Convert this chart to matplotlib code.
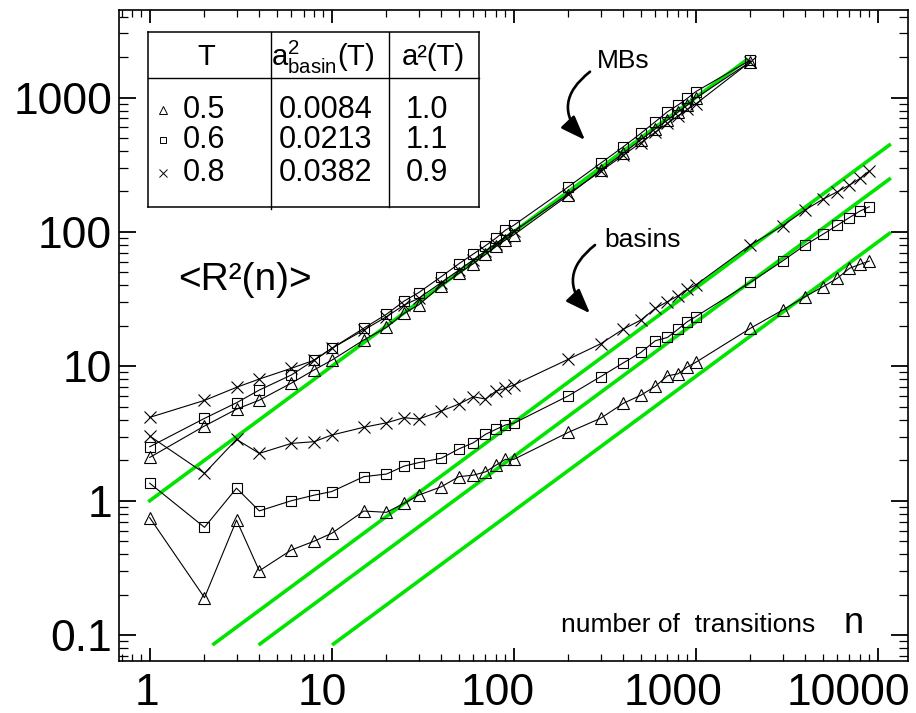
import matplotlib
matplotlib.use("Agg")
import matplotlib.pyplot as plt
from matplotlib.lines import Line2D
from matplotlib.patches import FancyArrowPatch
from matplotlib.transforms import ScaledTranslation

plt.rcParams['font.family'] = ['Liberation Sans', 'DejaVu Sans']
plt.rcParams['mathtext.fontset'] = 'custom'
plt.rcParams['mathtext.rm'] = 'Liberation Sans'
plt.rcParams['mathtext.it'] = 'Liberation Sans'

# number of transitions n
n_short = [1, 2, 3, 4, 6, 8, 10, 15, 20, 25, 30, 40, 50, 60, 70, 80, 90, 100]
n_mid = [200, 300, 400, 500, 600, 700, 800, 900, 1000]
n_long = [2000, 3000, 4000, 5000, 6000, 7000, 8000, 9000]
n_mb = n_short + n_mid + [2000]
n_basin = n_short + n_mid + n_long

temps = ["0.5", "0.6", "0.8"]
symbols = ["^", "s", "x"]
a2_basin = [0.0084, 0.0213, 0.0382]
a2_mb = [1.0, 1.1, 0.9]

# <R^2(n)> for metabasins
mb_t05 = [2.1, 3.6, 4.8, 5.6, 7.5, 9.4, 11.1, 15.7, 19.5, 24.8, 28.6, 39.8, 49.2, 58, 68, 78, 87, 95,
          188, 288, 385, 485, 585, 680, 780, 880, 990, 1850]
mb_t06 = [2.52, 4.1, 5.36, 6.66, 8.62, 11.1, 13.6, 19.2, 24.4, 30.6, 35.3, 46.5, 58, 68.5, 79, 90, 103, 112,
          217, 324, 430, 542, 661, 784, 880, 986, 1105, 1900]
mb_t08 = [4.17, 5.58, 6.98, 8.04, 9.67, 11.1, 13.6, 18.6, 23.4, 28.6, 32, 42, 52, 62, 72, 82, 92, 101,
          192, 282, 372, 462, 552, 642, 732, 815, 895, 1850]

# <R^2(n)> for basins
basin_t05 = [0.748, 0.19, 0.718, 0.301, 0.43, 0.50, 0.572, 0.838, 0.82, 0.956, 1.10, 1.27, 1.51, 1.55, 1.64, 1.84, 2.03, 2.03,
             3.23, 4.1, 5.3, 6.1, 7.1, 8.5, 8.8, 9.9, 10.7,
             19.2, 26.2, 33, 39.1, 45.2, 53.6, 57.4, 60.7]
basin_t06 = [1.35, 0.634, 1.24, 0.84, 1.0, 1.10, 1.17, 1.51, 1.58, 1.81, 1.92, 2.07, 2.43, 2.70, 3.12, 3.40, 3.66, 3.77,
             6.04, 8.37, 10.6, 12.7, 15.5, 16.4, 18.9, 21.5, 23.4,
             42.2, 60.7, 80, 96, 112, 128, 143, 154]
basin_t08 = [3.03, 1.60, 2.86, 2.25, 2.67, 2.75, 3.08, 3.52, 3.80, 4.15, 4.05, 4.65, 5.24, 5.94, 5.71, 6.55, 6.86, 7.26,
             11.3, 14.7, 18.9, 22.1, 27, 30.3, 33.4, 37.4, 40.3,
             80, 111, 146, 175, 199, 223, 250, 284]

mb_curves = [mb_t05, mb_t06, mb_t08]
basin_curves = [basin_t05, basin_t06, basin_t08]

# range of the linear fits a^2 * n
mb_fit_range = [1, 1900]
basin_fit_floor = 0.086
basin_fit_end = 11600

x_ticks = [1, 10, 100, 1000, 10000]
x_labels = ["1", "10", "100", "1000", "10000"]
y_ticks = [0.1, 1, 10, 100, 1000]
y_labels = ["0.1", "1", "10", "100", "1000"]

W, H = 916, 713
fig = plt.figure(figsize=(W / 100, H / 100), dpi=100)
ax = fig.add_axes([119 / W, 1 - 661 / H, 789 / W, 651 / H])


def fxy(px, py):
    # pixel position -> figure fraction
    return px / W, 1 - py / H


green = "#00e400"

# linear fits
ax.plot(mb_fit_range, [a2_mb[0] * n for n in mb_fit_range], color=green, lw=2.6, zorder=1)
for a2 in a2_basin:
    nn = [basin_fit_floor / a2, basin_fit_end]
    ax.plot(nn, [a2 * n for n in nn], color=green, lw=2.6, zorder=1)

msize = {"^": 8, "s": 7.3, "x": 8}
for sym, mb, bs in zip(symbols, mb_curves, basin_curves):
    for nn, yy in ((n_mb, mb), (n_basin, bs)):
        ax.plot(nn, yy, color="black", lw=0.8, marker=sym, ms=msize[sym],
                mfc="none", mec="black", mew=0.8, zorder=3)

ax.set_xscale("log")
ax.set_yscale("log")
ax.set_xlim(0.678, 14680)
ax.set_ylim(0.0642, 4480)

for s in ax.spines.values():
    s.set_linewidth(1.2)

ax.set_yticks(y_ticks, labels=y_labels)
ax.set_xticks(x_ticks, labels=[""] * len(x_ticks))
ax.tick_params(which="both", direction="in", top=True, right=True, labelsize=32)
ax.tick_params(axis="y", which="major", length=12, width=1.3, pad=5)
ax.tick_params(axis="y", which="minor", length=6.5, width=0.9)
ax.tick_params(axis="x", which="major", length=9.5, width=1.3)
ax.tick_params(axis="x", which="minor", length=5, width=0.9)
ax.tick_params(axis="x", labelbottom=False)

# x tick labels, drawn slightly to the left of their ticks
for v, lab in zip(x_ticks, x_labels):
    dx = (-3 - 6.5 * (len(lab) - 1)) / 100
    off = ScaledTranslation(dx, -0.116, fig.dpi_scale_trans)
    ax.text(v, 0, lab, transform=ax.get_xaxis_transform() + off,
            ha="center", va="top", fontsize=32)

# annotations
fig.text(*fxy(178, 290), "<R²(n)>", fontsize=28, ha="left", va="baseline")
fig.text(*fxy(597, 68.3), "MBs", fontsize=19, ha="left", va="baseline")
fig.text(*fxy(604, 246.5), "basins", fontsize=19, ha="left", va="baseline")
fig.text(*fxy(561, 631.7), "number of  transitions", fontsize=19, ha="left", va="baseline")
fig.text(*fxy(844, 632.7), "n", fontsize=26, ha="left", va="baseline")

for start, end in (((590, 71.7), (585, 140)), ((595, 245), (590, 313.3))):
    arr = FancyArrowPatch(fxy(*start), fxy(*end), transform=fig.transFigure,
                          connectionstyle="arc3,rad=0.55",
                          arrowstyle="-|>,head_length=0.75,head_width=0.28",
                          mutation_scale=20, lw=1.9, color="black",
                          shrinkA=0, shrinkB=0)
    fig.add_artist(arr)

# table of temperatures and fitted prefactors
box_l, box_r, box_t, box_b = 148, 479, 32, 207


def seg(p0, p1, lw=1.1):
    (x0, y0), (x1, y1) = fxy(*p0), fxy(*p1)
    fig.add_artist(Line2D([x0, x1], [y0, y1], transform=fig.transFigure, color="black", lw=lw))


seg((box_l, box_t), (box_r, box_t))
seg((box_l, box_b), (box_r, box_b))
seg((box_l, box_t), (box_l, box_b))
seg((box_r, box_t), (box_r, box_b))
seg((box_l, 78), (box_r, 78), lw=1.0)
seg((271, box_t), (271, box_b + 2), lw=1.0)
seg((389, box_t), (389, box_b), lw=1.0)

fig.text(*fxy(206, 57), "T", fontsize=21, ha="center", va="center")
fig.text(*fxy(323, 57), r"$\mathregular{a^2_{basin}(T)}$", fontsize=21, ha="center", va="center")
fig.text(*fxy(433, 57), "a²(T)", fontsize=21, ha="center", va="center")

row_y = [110, 140, 173]
for ry, sym, t, ab, am in zip(row_y, symbols, temps, a2_basin, a2_mb):
    mx, my = fxy(163, ry)
    fig.add_artist(Line2D([mx], [my], transform=fig.transFigure, marker=sym,
                          ms={"^": 5.5, "s": 5, "x": 5.5}[sym], mfc="none", mec="black", mew=0.7))
    fig.text(*fxy(183, ry), t, fontsize=22, ha="left", va="center")
    fig.text(*fxy(326, ry), f"{ab:.4f}", fontsize=22, ha="center", va="center")
    fig.text(*fxy(427, ry), f"{am:.1f}", fontsize=22, ha="center", va="center")

fig.savefig("out.png", dpi=100)
